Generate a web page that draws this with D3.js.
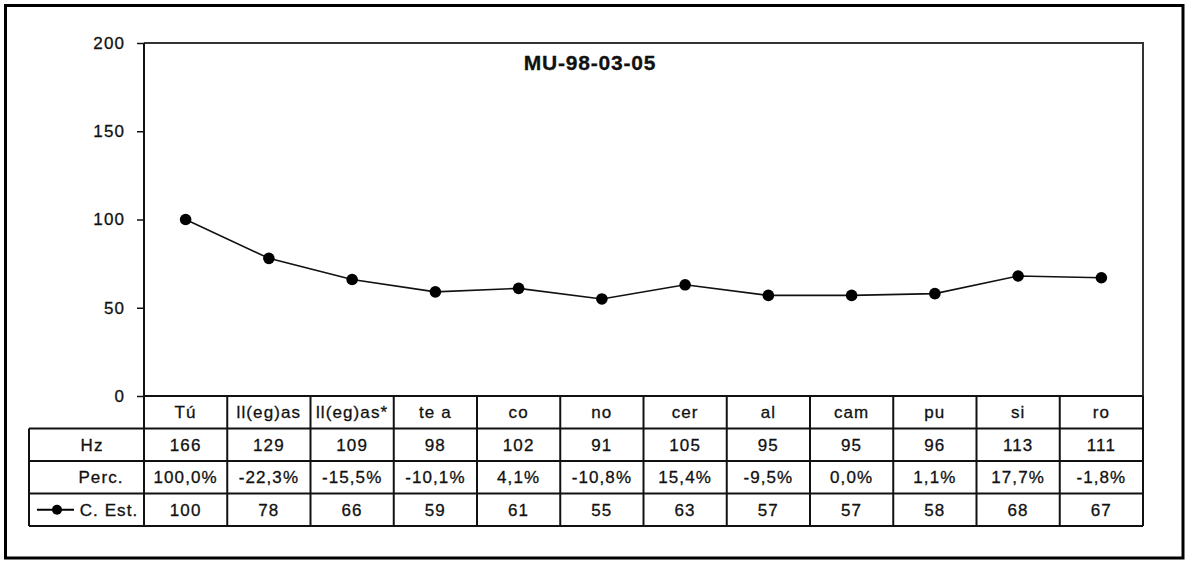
<!DOCTYPE html>
<html><head><meta charset="utf-8">
<script src="https://cdn.jsdelivr.net/npm/d3@7"></script>
<style>body{margin:0;background:#fff}svg{display:block}text{font-family:"Liberation Sans",Arial,sans-serif;fill:#111;stroke:#111;stroke-width:0.3px}</style>
</head><body><svg id="c" width="1188" height="561"></svg>
<script>
const title = "MU-98-03-05";
const categories = ["Tú","ll(eg)as","ll(eg)as*","te a","co","no","cer","al","cam","pu","si","ro"];
const hzValues = [166,129,109,98,102,91,105,95,95,96,113,111];
const percLabels = ["100,0%","-22,3%","-15,5%","-10,1%","4,1%","-10,8%","15,4%","-9,5%","0,0%","1,1%","17,7%","-1,8%"];
const estValues = [100,78,66,59,61,55,63,57,57,58,68,67];
const yTicks = [0,50,100,150,200];
const rowLabels = ["Hz","Perc.","C. Est."];

const svg = d3.select("#c");
const L=144, R=1143, T=43, B=396, tableLeft=29;
const rowH = 32.5;
const FS = 17, LS = 1.1;

svg.append("rect").attr("x",5.5).attr("y",5.5).attr("width",1177.5).attr("height",552.5)
  .attr("fill","#fff").attr("stroke","#000").attr("stroke-width",3);

const x = d3.scaleBand().domain(categories).range([L,R]).padding(0);
const y = d3.scaleLinear().domain([0,200]).range([B,T]);
const cx = d => x(d)+x.bandwidth()/2;

// plot area top/right borders
svg.append("path").attr("d",`M${L},${T}H${R}V${B}`).attr("fill","none").attr("stroke","#333").attr("stroke-width",2);

// y axis
const yAxis = d3.axisLeft(y).tickValues(yTicks).tickSize(7).tickPadding(12);
const ga = svg.append("g").attr("transform",`translate(${L},0)`).call(yAxis);
ga.select(".domain").attr("stroke","#111").attr("stroke-width",2).attr("d",`M0,${T}V${B}`);
ga.selectAll(".tick line").attr("stroke","#111").attr("stroke-width",1.5);
ga.selectAll(".tick text").attr("font-size",FS).attr("font-family","Liberation Sans, Arial").attr("letter-spacing",LS).attr("fill","#111").attr("dy","0.32em");

// title
svg.append("text").attr("x",590).attr("y",70).attr("text-anchor","middle").attr("font-size",21).attr("font-weight","bold").attr("letter-spacing",0.8).text(title);

// line + markers
const line = d3.line().x((d,i)=>cx(categories[i])).y(d=>y(d));
svg.append("path").datum(estValues).attr("d",line).attr("fill","none").attr("stroke","#111").attr("stroke-width",1.6);
svg.selectAll("circle.pt").data(estValues).join("circle").attr("class","pt")
  .attr("cx",(d,i)=>cx(categories[i])).attr("cy",d=>y(d)).attr("r",5.8).attr("fill","#000");

// table
const tg = svg.append("g");
const rowsTop = B + rowH;
const tableBottom = B + rowH*4;
const st = (s)=>s.attr("stroke","#111").attr("stroke-width",2).attr("fill","none");
st(tg.append("path").attr("d",`M${L},${B}H${R}`));
for(let r=1;r<=4;r++){ st(tg.append("path").attr("d",`M${tableLeft},${B+rowH*r}H${R}`)); }
categories.forEach((c,i)=>{ st(tg.append("path").attr("d",`M${x(c)},${B}V${tableBottom}`)); });
st(tg.append("path").attr("d",`M${R},${B}V${tableBottom}`));
st(tg.append("path").attr("d",`M${tableLeft},${rowsTop}V${tableBottom}`));

const cellText = (xx,yy,t,anchor="middle")=>tg.append("text").attr("x",xx).attr("y",yy).attr("dy","0.35em")
  .attr("text-anchor",anchor).attr("font-size",FS).attr("letter-spacing",LS).text(t);

categories.forEach((c,i)=>{
  cellText(cx(c),B+rowH*0.5,c);
  cellText(cx(c),B+rowH*1.5,hzValues[i]);
  cellText(cx(c),B+rowH*2.5,percLabels[i]);
  cellText(cx(c),B+rowH*3.5,estValues[i]);
});
cellText(92,B+rowH*1.5,rowLabels[0]);
cellText(101,B+rowH*2.5,rowLabels[1]);
cellText(109,B+rowH*3.5,rowLabels[2]);
const ky = B+rowH*3.5;
tg.append("path").attr("d",`M37,${ky}H74`).attr("stroke","#000").attr("stroke-width",1.8);
tg.append("circle").attr("cx",57).attr("cy",ky).attr("r",5).attr("fill","#000");
</script></body></html>
